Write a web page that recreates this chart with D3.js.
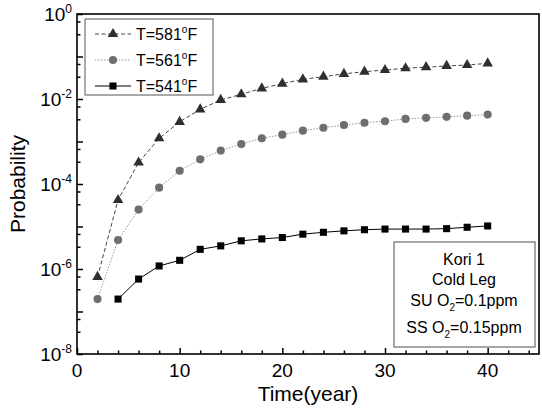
<!DOCTYPE html>
<html>
<head>
<meta charset="utf-8">
<script src="https://cdn.jsdelivr.net/npm/d3@7"></script>
<style>
  html, body { margin: 0; padding: 0; background: #fff; }
  svg { display: block; }
  text { font-family: Arial, "Liberation Sans", sans-serif; fill: #000; }
</style>
</head>
<body>
<svg id="chart" width="542" height="415"></svg>
<script>
// Crack-initiation probability vs. operating time, three temperatures
const years = [2, 4, 6, 8, 10, 12, 14, 16, 18, 20, 22, 24, 26, 28, 30, 32, 34, 36, 38, 40];
const years541 = [4, 6, 8, 10, 12, 14, 16, 18, 20, 22, 24, 26, 28, 30, 32, 34, 36, 38, 40];

const p581 = [6.5e-7, 4.2e-5, 3.2e-4, 1.19e-3, 2.9e-3, 5.7e-3, 9.5e-3, 1.29e-2, 1.78e-2, 2.3e-2,
              2.9e-2, 3.35e-2, 3.9e-2, 4.4e-2, 4.8e-2, 5.3e-2, 5.6e-2, 6.0e-2, 6.3e-2, 6.9e-2];
const p561 = [1.96e-7, 4.8e-6, 2.5e-5, 8.2e-5, 2.05e-4, 3.8e-4, 6.1e-4, 8.7e-4, 1.19e-3, 1.45e-3,
              1.8e-3, 2.1e-3, 2.45e-3, 2.77e-3, 3.0e-3, 3.4e-3, 3.6e-3, 3.8e-3, 4.05e-3, 4.3e-3];
const p541 = [1.96e-7, 5.8e-7, 1.18e-6, 1.6e-6, 2.9e-6, 3.5e-6, 4.6e-6, 5.1e-6, 5.5e-6,
              6.6e-6, 7.3e-6, 7.9e-6, 8.4e-6, 8.7e-6, 8.7e-6, 8.7e-6, 8.9e-6, 9.6e-6, 1.03e-5];

const seriesNames = ["581", "561", "541"];
const xMajorTicks = [0, 10, 20, 30, 40];
const xMinorTicks = [2, 4, 6, 8, 12, 14, 16, 18, 22, 24, 26, 28, 32, 34, 36, 38, 42, 44];
const yLabelExps = [0, -2, -4, -6, -8];
const yDecadeExps = [0, -1, -2, -3, -4, -5, -6, -7, -8];
const noteLines = ["Kori 1", "Cold Leg", "SU O|2|=0.1ppm", "SS O|2|=0.15ppm"];

const svg = d3.select("#chart");
const W = 542, H = 415;
const m = { left: 77, top: 14, right: 3, bottom: 61 };
const pw = W - m.left - m.right, ph = H - m.top - m.bottom;

svg.append("rect").attr("width", W).attr("height", H).attr("fill", "#fff");

const x = d3.scaleLinear().domain([0, 45]).range([m.left, m.left + pw]);
const y = d3.scaleLog().domain([1e-8, 1]).range([m.top + ph, m.top]);

const g = svg.append("g");

// y minor ticks at one third and two thirds of each decade value
const yMinor = [];
yDecadeExps.forEach(e => { if (e > -8) { yMinor.push(Math.pow(10, e) / 3, 2 * Math.pow(10, e) / 3); } });

const yMajorAxis = d3.axisLeft(y).tickValues(yDecadeExps.map(e => Math.pow(10, e)))
  .tickSize(-6).tickFormat("");
const yMinorAxis = d3.axisLeft(y).tickValues(yMinor).tickSize(-3.5).tickFormat("");
const xMajorAxis = d3.axisBottom(x).tickValues(xMajorTicks).tickSize(-6).tickFormat("");
const xMinorAxis = d3.axisBottom(x).tickValues(xMinorTicks).tickSize(-3.5).tickFormat("");

function styleAxis(sel) {
  sel.select(".domain").remove();
  sel.selectAll(".tick line").attr("stroke", "#000").attr("stroke-width", 1.5);
}
g.append("g").attr("transform", `translate(${m.left},0)`).call(yMajorAxis).call(styleAxis);
g.append("g").attr("transform", `translate(${m.left},0)`).call(yMinorAxis).call(styleAxis);
g.append("g").attr("transform", `translate(0,${m.top + ph})`).call(xMajorAxis).call(styleAxis);
g.append("g").attr("transform", `translate(0,${m.top + ph})`).call(xMinorAxis).call(styleAxis);

// frame
g.append("rect").attr("x", m.left).attr("y", m.top).attr("width", pw).attr("height", ph)
  .attr("fill", "none").attr("stroke", "#000").attr("stroke-width", 1.6);

// x tick labels
g.selectAll(".xl").data(xMajorTicks).join("text")
  .attr("x", d => x(d)).attr("y", m.top + ph + 23)
  .attr("text-anchor", "middle").attr("font-size", 19).text(d => d);

// y tick labels: 10 with superscript exponent
yLabelExps.forEach(e => {
  const t = g.append("text").attr("x", m.left - 5).attr("y", y(Math.pow(10, e)) + 7)
    .attr("text-anchor", "end").attr("font-size", 19);
  t.append("tspan").text("10");
  t.append("tspan").attr("dy", -8).attr("font-size", 12).text(e === 0 ? "0" : "-" + (-e));
});

// axis titles
g.append("text").attr("x", m.left + pw / 2).attr("y", 401).attr("text-anchor", "middle")
  .attr("font-size", 21).text("Time(year)");
g.append("text").attr("transform", `translate(25,${m.top + ph / 2}) rotate(-90)`)
  .attr("text-anchor", "middle").attr("font-size", 21).text("Probability");

// series
const line = d3.line().x(d => x(d[0])).y(d => y(d[1]));
const s581 = years.map((t, i) => [t, p581[i]]);
const s561 = years.map((t, i) => [t, p561[i]]);
const s541 = years541.map((t, i) => [t, p541[i]]);

const styles = {
  "581": { line: "#444", dash: "4,2.5", fill: "#2f2f2f", sym: d3.symbolTriangle, size: 48 },
  "561": { line: "#999", dash: "1.5,1.5", fill: "#6e6e6e", sym: d3.symbolCircle, size: 52 },
  "541": { line: "#000", dash: null, fill: "#000", sym: d3.symbolSquare, size: 50 }
};
const seriesData = { "581": s581, "561": s561, "541": s541 };

seriesNames.forEach(k => {
  const st = styles[k];
  g.append("path").datum(seriesData[k]).attr("d", line).attr("fill", "none")
    .attr("stroke", st.line).attr("stroke-width", 1).attr("stroke-dasharray", st.dash);
});
seriesNames.forEach(k => {
  const st = styles[k];
  g.selectAll(null).data(seriesData[k]).join("path")
    .attr("transform", d => `translate(${x(d[0])},${y(d[1])})`)
    .attr("d", d3.symbol().type(st.sym).size(st.size)).attr("fill", st.fill);
});

// legend
const lg = g.append("g");
lg.append("rect").attr("x", 85).attr("y", 19).attr("width", 128).attr("height", 76)
  .attr("fill", "#fff").attr("stroke", "#555").attr("stroke-width", 1);
const legendRows = [34, 60, 86];
seriesNames.forEach((k, i) => {
  const st = styles[k], ry = legendRows[i];
  lg.append("line").attr("x1", 95).attr("x2", 131).attr("y1", ry).attr("y2", ry)
    .attr("stroke", st.line).attr("stroke-width", 1).attr("stroke-dasharray", st.dash);
  lg.append("path").attr("transform", `translate(113,${ry})`)
    .attr("d", d3.symbol().type(st.sym).size(st.size)).attr("fill", st.fill);
  const t = lg.append("text").attr("x", 136).attr("y", ry + 6).attr("font-size", 16);
  t.append("tspan").text("T=" + k);
  t.append("tspan").attr("dy", -7).attr("font-size", 10).text("o");
  t.append("tspan").attr("dy", 7).text("F");
});

// condition note
const ng = g.append("g");
ng.append("rect").attr("x", 394).attr("y", 242).attr("width", 141).attr("height", 105)
  .attr("fill", "#fff").attr("stroke", "#777").attr("stroke-width", 1.3);
const noteBase = [265, 285, 306, 333];
noteLines.forEach((s, i) => {
  const t = ng.append("text").attr("x", 464).attr("y", noteBase[i])
    .attr("text-anchor", "middle").attr("font-size", 16);
  const parts = s.split("|");
  t.append("tspan").text(parts[0]);
  if (parts.length > 1) {
    t.append("tspan").attr("dy", 5).attr("font-size", 10).text(parts[1]);
    t.append("tspan").attr("dy", -5).text(parts[2]);
  }
});
</script>
</body>
</html>
